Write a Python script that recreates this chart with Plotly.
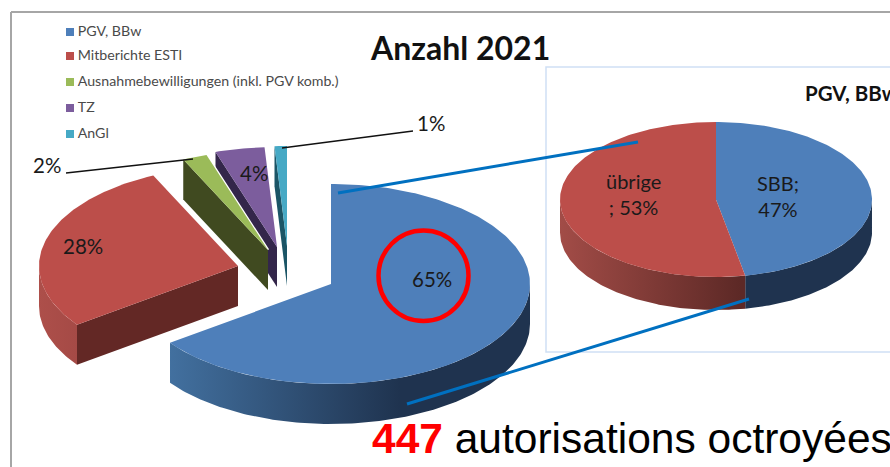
import numpy as np
import plotly.graph_objects as go

# ---- data ----
categories = ["PGV, BBw", "Mitberichte ESTI", "Ausnahmebewilligungen (inkl. PGV komb.)", "TZ", "AnGl"]
shares = [65, 28, 2, 4, 1]
detail_categories = ["SBB", "übrige"]
detail_shares = [47, 53]
title_main = "Anzahl 2021"
title_detail = "PGV, BBw"

# ---- styling and layout (pixel frame) ----
W, H = 890, 467
top_colors = ["#4e7fba", "#bc4e4a", "#9bbb59", "#7c5d9d", "#46a9c5"]
face_colors = [None, "#632825", "#404a20", "#33264a", "#1b5566"]
side_scales = [
    ["#42709f", "#1f334f"], ["#ad4f4a", "#a54a46"], ["#404a20", "#404a20"],
    ["#33264a", "#33264a"], ["#1b5566", "#1b5566"],
]
side_stops = [(170, 400), (39, 77), (0, 1), (0, 1), (0, 1)]
apex = [(331, 284), (238, 266), (268, 250), (277, 247), (287, 246)]
RX, RY, DEPTH = 199, 100, 40
D_C, D_RX, D_RY, D_DEPTH = (716, 199.5), 156, 77.5, 33
detail_tops = ["#4e7fba", "#bc4e4a"]
detail_scales = [["#1f334f", "#1f334f"], ["#a24c47", "#5d2926"]]
detail_stops = [(740, 872), (560, 740)]
FONT = "Lato"


def point(c, rx, ry, deg):
    a = np.radians(deg)
    return c[0] + rx * np.sin(a), c[1] - ry * np.cos(a)


def arc(c, rx, ry, a0, a1):
    n = max(int(abs(a1 - a0)), 2) + 1
    return point(c, rx, ry, np.linspace(a0, a1, n))


def add_poly(fig, x, y, color=None, scale=None, stops=None, lw=0.0, name=None):
    kw = dict(x=list(x) + [x[0]], y=list(y) + [y[0]], mode="lines", fill="toself",
              line=dict(color="white", width=lw), hoverinfo="skip", showlegend=False, name=name)
    if scale:
        kw["fillgradient"] = dict(type="horizontal", start=stops[0], stop=stops[1],
                                  colorscale=[[0, scale[0]], [1, scale[1]]])
    else:
        kw["fillcolor"] = color
    fig.add_trace(go.Scatter(**kw))


def add_side(fig, c, rx, ry, depth, a0, a1, scale, stops):
    lo, hi = max(a0, 90), min(a1, 270)
    if hi <= lo:
        return
    xa, ya = arc(c, rx, ry, lo, hi)
    x = np.r_[xa, xa[::-1]]
    y = np.r_[ya, ya[::-1] + depth]
    add_poly(fig, x, y, scale=scale, stops=stops)


def add_top(fig, c, rx, ry, a0, a1, color, name, lw=0.0):
    xa, ya = arc(c, rx, ry, a0, a1)
    add_poly(fig, np.r_[c[0], xa], np.r_[c[1], ya], color=color, lw=lw, name=name)


fig = go.Figure()

# main exploded pie, back to front; a white halo separates each slice from the one behind
edges = np.r_[0, np.cumsum(shares)] * 3.6
for i in [4, 3, 2, 1, 0]:
    a0, a1 = edges[i], edges[i + 1]
    c = apex[i]
    add_top(fig, c, RX, RY, a0, a1, top_colors[i], categories[i], lw=2.5)
    add_side(fig, c, RX, RY, DEPTH, a0, a1, side_scales[i], side_stops[i])
    if face_colors[i]:
        px, py = point(c, RX, RY, a0)
        add_poly(fig, [px, c[0], c[0], px], [py, c[1], c[1] + DEPTH, py + DEPTH], color=face_colors[i])
    add_top(fig, c, RX, RY, a0, a1, top_colors[i], categories[i])

# detail pie
d_edges = np.r_[0, np.cumsum(detail_shares)] * 3.6
for i in range(2):
    add_side(fig, D_C, D_RX, D_RY, D_DEPTH, d_edges[i], d_edges[i + 1], detail_scales[i], detail_stops[i])
for i in range(2):
    add_top(fig, D_C, D_RX, D_RY, d_edges[i], d_edges[i + 1], detail_tops[i], detail_categories[i])

# legend, drawn as markers with text
legend_y = [32, 56, 82, 108, 134]
fig.add_trace(go.Scatter(
    x=[70] * 5, y=legend_y, mode="markers+text", text=["\u2009" + c for c in categories],
    textposition="middle right",
    textfont=dict(family=FONT, size=14.2, color="#4a4a4a"),
    marker=dict(symbol="square", size=8, color=top_colors, line=dict(width=0)),
    hoverinfo="skip", showlegend=False,
))

shapes = [
    dict(type="line", x0=11, x1=11, y0=12, y1=H + 5, line=dict(color="#a6a6a6", width=2)),
    dict(type="line", x0=11, x1=W + 5, y0=12, y1=12, line=dict(color="#a6a6a6", width=2)),
    dict(type="rect", x0=546, x1=W + 10, y0=67, y1=352, line=dict(color="#cfe0f5", width=1.5), layer="below"),
    dict(type="line", x0=66, y0=173, x1=193, y1=159, line=dict(color="#111111", width=1.3)),
    dict(type="line", x0=282, y0=148, x1=413, y1=131, line=dict(color="#111111", width=1.3)),
    dict(type="line", x0=338, y0=193, x1=638, y1=142, line=dict(color="#0070c0", width=3)),
    dict(type="line", x0=407, y0=404, x1=749, y1=299, line=dict(color="#0070c0", width=3)),
    dict(type="circle", x0=378.5, x1=468.5, y0=230.5, y1=321, line=dict(color="#ff0000", width=4.5)),
]


def note(x, y, text, size=20.5, color="#1a1a1a", family=FONT, anchor="center"):
    return dict(x=x, y=y, text=text, showarrow=False, xanchor=anchor, yanchor="middle",
                font=dict(family=family, size=size, color=color), align="center")


pct = [f"{v}%" for v in shares]
annotations = [
    note(368, 47, f"<b>{title_main}</b>", size=32, color="#111111", anchor="left"),
    note(803, 93, f"<b>{title_detail}</b>", size=20.5, color="#111111", anchor="left"),
    note(432, 279, pct[0]),
    note(83, 246, pct[1]),
    note(47, 165, pct[2]),
    note(254, 173, pct[3]),
    note(431, 123, pct[4]),
    note(778, 195.5, f"{detail_categories[0]};<br>{detail_shares[0]}%", size=20),
    note(633, 193.5, f"{detail_categories[1]}<br>; {detail_shares[1]}%", size=20),
    note(370, 438, '<span style="color:#ff0000"><b>447</b></span> autorisations octroyées',
         size=42.5, color="#000000", family="Liberation Sans", anchor="left"),
]

fig.update_layout(
    width=W, height=H, margin=dict(l=0, r=0, t=0, b=0), autosize=False,
    paper_bgcolor="white", plot_bgcolor="white", showlegend=False,
    xaxis=dict(range=[0, W], visible=False, fixedrange=True),
    yaxis=dict(range=[H, 0], visible=False, fixedrange=True),
    shapes=shapes, annotations=annotations,
)
fig.write_html("out.html", post_script="document.body.style.margin='0';", config={"displayModeBar": False})
